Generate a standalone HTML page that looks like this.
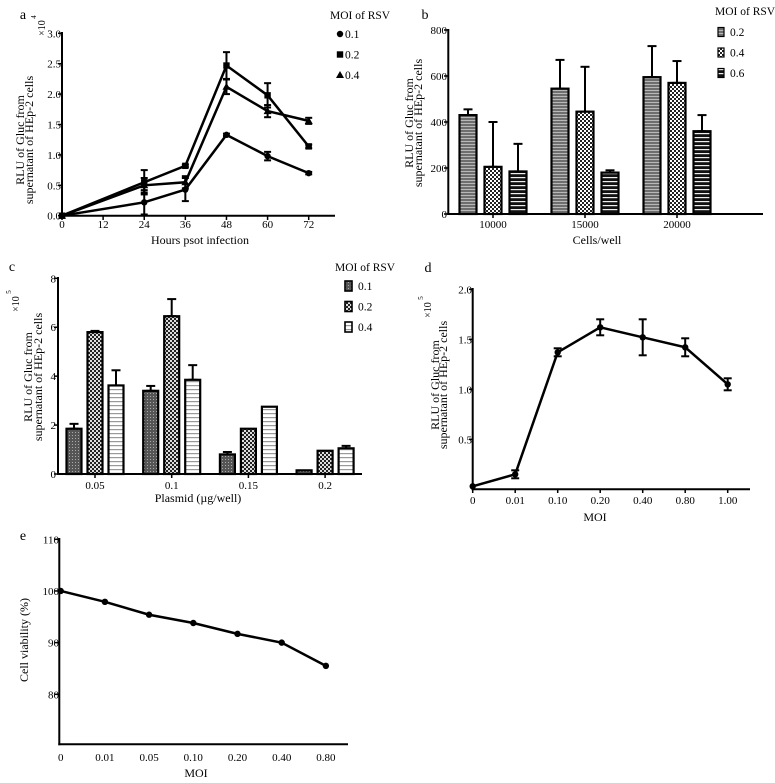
<!DOCTYPE html>
<html><head><meta charset="utf-8"><style>
html,body{margin:0;padding:0;background:#fff;}
svg{display:block;font-family:"Liberation Serif",serif;}
</style></head><body>
<svg id="fig" width="775" height="783" viewBox="0 0 775 783" xmlns="http://www.w3.org/2000/svg">
<defs>
<pattern id="pb1" width="4" height="3" patternUnits="userSpaceOnUse"><rect width="4" height="3" fill="#6e6e6e"/><rect width="4" height="1" fill="#b8b8b8"/></pattern>
<pattern id="pb2" width="4" height="4" patternUnits="userSpaceOnUse"><rect width="4" height="4" fill="#fff"/><rect width="2" height="2" fill="#222"/><rect x="2" y="2" width="2" height="2" fill="#222"/></pattern>
<pattern id="pb3" width="4" height="4" patternUnits="userSpaceOnUse"><rect width="4" height="4" fill="#111"/><rect y="1" width="4" height="1.2" fill="#eee"/></pattern>
<pattern id="pc1" width="3" height="3" patternUnits="userSpaceOnUse"><rect width="3" height="3" fill="#555"/><rect width="1" height="1" fill="#aaa"/></pattern>
<pattern id="pc2" width="4" height="4" patternUnits="userSpaceOnUse"><rect width="4" height="4" fill="#ddd"/><rect width="2" height="2" fill="#222"/><rect x="2" y="2" width="2" height="2" fill="#222"/></pattern>
<pattern id="pc3" width="4" height="4" patternUnits="userSpaceOnUse"><rect width="4" height="4" fill="#fff"/><rect y="1" width="4" height="1.2" fill="#999"/></pattern>
</defs>
</svg>
<script>
// Panel a data
const aHours = [0, 24, 36, 48, 60, 72];
const aXTicks = [0, 12, 24, 36, 48, 60, 72];
const aYTicks = ['0.0','0.5','1.0','1.5','2.0','2.5','3.0'];
const aSeriesNames = ['0.1', '0.2', '0.4'];
const aMoi01 = [0, 0.22, 0.43, 1.33, 0.98, 0.70];
const aErr01 = [0, 0.2, 0.19, 0.02, 0.07, 0.02];
const aMoi02 = [0, 0.55, 0.82, 2.47, 1.98, 1.14];
const aErr02 = [0, 0.2, 0.02, 0.22, 0.2, 0.03];
const aMoi04 = [0, 0.50, 0.55, 2.12, 1.72, 1.56];
const aErr04 = [0, 0.12, 0.1, 0.12, 0.1, 0.05];
// Panel b data
const bGroups = ['10000', '15000', '20000'];
const bYTicks = [0, 200, 400, 600, 800];
const bSeriesNames = ['0.2', '0.4', '0.6'];
const bMoi02 = [430, 545, 595];
const bErr02 = [25, 125, 135];
const bMoi04 = [205, 445, 570];
const bErr04 = [195, 195, 95];
const bMoi06 = [185, 180, 360];
const bErr06 = [120, 10, 70];
// Panel c data
const cGroups = ['0.05', '0.1', '0.15', '0.2'];
const cYTicks = [0, 2, 4, 6, 8];
const cSeriesNames = ['0.1', '0.2', '0.4'];
const cMoi01 = [1.85, 3.4, 0.8, 0.15];
const cErr01 = [0.2, 0.2, 0.1, 0];
const cMoi02 = [5.8, 6.45, 1.85, 0.95];
const cErr02 = [0.05, 0.7, 0, 0];
const cMoi04 = [3.62, 3.85, 2.75, 1.05];
const cErr04 = [0.62, 0.6, 0, 0.1];
// Panel d data
const dCats = ['0', '0.01', '0.10', '0.20', '0.40', '0.80', '1.00'];
const dYTicks = ['0.5', '1.0', '1.5', '2.0'];
const dVals = [0.03, 0.15, 1.37, 1.62, 1.52, 1.42, 1.05];
const dErr = [0.01, 0.04, 0.04, 0.08, 0.18, 0.09, 0.06];
// Panel e data
const eCats = ['0', '0.01', '0.05', '0.10', '0.20', '0.40', '0.80'];
const eYTicks = [80, 90, 100, 110];
const eVals = [100, 97.9, 95.4, 93.8, 91.7, 90.0, 85.5];

const svg = document.getElementById('fig');
const NS = 'http://www.w3.org/2000/svg';
const TICK = 11, TITLE = 12, LEG = 11.5;
function mk(tag, attrs, parent) {
  const e = document.createElementNS(NS, tag);
  for (const k in attrs) e.setAttribute(k, attrs[k]);
  (parent || svg).appendChild(e);
  return e;
}
function lin(d0, d1, r0, r1) { return v => r0 + (v - d0) * (r1 - r0) / (d1 - d0); }
function txt(x, y, s, size, anchor, rot) {
  const t = mk('text', {x: x, y: y, 'font-size': size, 'text-anchor': anchor || 'middle', fill: '#000'});
  if (rot) t.setAttribute('transform', 'rotate(-90 ' + x + ' ' + y + ')');
  t.textContent = s;
  return t;
}
function line(x1, y1, x2, y2, w) {
  return mk('line', {x1: x1, y1: y1, x2: x2, y2: y2, stroke: '#000', 'stroke-width': w || 2});
}
function errbar(x, yLo, yHi, cap) {
  const g = mk('g', {});
  
  
  mk('line', {x1: x, y1: yLo, x2: x, y2: yHi, stroke: '#000', 'stroke-width': 2}, g);
  mk('line', {x1: x - cap, y1: yHi, x2: x + cap, y2: yHi, stroke: '#000', 'stroke-width': 2}, g);
  mk('line', {x1: x - cap, y1: yLo, x2: x + cap, y2: yLo, stroke: '#000', 'stroke-width': 2}, g);
  return g;
}
function marker(kind, x, y, parent) {
  let m;
  if (kind === 0) m = mk('circle', {cx: x, cy: y, r: 3.2, fill: '#000'}, parent);
  else if (kind === 1) m = mk('rect', {x: x - 3.2, y: y - 3.2, width: 6.4, height: 6.4, fill: '#000'}, parent);
  else m = mk('polygon', {points: (x) + ',' + (y - 4) + ' ' + (x - 4) + ',' + (y + 3) + ' ' + (x + 4) + ',' + (y + 3), fill: '#000'}, parent);
  return m;
}

// ---------- Panel a ----------
(function () {
  const xa = lin(0, 72, 62, 308.7), ya = lin(0, 3, 215.7, 33.3);
  let t = txt(23, 19, 'a', 14);  
  line(62, 32, 62, 216.7); line(61, 215.7, 335, 215.7);
  aXTicks.forEach(v => {
    line(xa(v), 215.7, xa(v), 220, 1.5);
    const l = txt(xa(v), 228, String(v), TICK);  
  });
  aYTicks.forEach(s => {
    const v = parseFloat(s);
    line(58, ya(v), 62, ya(v), 1.5);
    const l = txt(61, ya(v) + 4, s, TICK, 'end');  
  });
  t = txt(200, 244, 'Hours psot infection', TITLE);  
  t = txt(24, 140, 'RLU of Gluc from', TITLE, 'middle', true);  
  t = txt(33, 140, 'supernatant of HEp-2 cells', TITLE, 'middle', true);  
  t = txt(45, 28, '×10', 10, 'middle', true);  
  t = txt(36, 17, '4', 7, 'middle', true);  
  const series = [[aMoi01, aErr01], [aMoi02, aErr02], [aMoi04, aErr04]];
  series.forEach((s, k) => {
    const g = mk('g', {});
    
    
    const pts = aHours.map((h, i) => xa(h) + ',' + ya(s[0][i])).join(' ');
    mk('polyline', {points: pts, fill: 'none', stroke: '#000', 'stroke-width': 2.5}, g);
    aHours.forEach((h, i) => {
      if (s[1][i] > 0) g.appendChild(errbar(xa(h), ya(s[0][i] - s[1][i]), ya(s[0][i] + s[1][i]), 3.5));
      marker(k, xa(h), ya(s[0][i]), g);
    });
  });
  t = txt(330, 19, 'MOI of RSV', LEG, 'start');  
  aSeriesNames.forEach((n, k) => {
    const y = 34 + k * 20.5;
    const g = mk('g', {});
    
    
    marker(k, 340, y, g);
    g.appendChild(txt(345, y + 4, n, LEG, 'start'));
  });
})();

function barPanel(pre, groups, series, errs, names, pats, y, cx0, dx, off, bw, base) {
  groups.forEach((gname, i) => {
    series.forEach((s, k) => {
      const cx = cx0 + i * dx + (k - 1) * off;
      if (errs[k][i] > 0) errbar(cx, y(s[i]), y(s[i] + errs[k][i]), 4.5);
      const r = mk('rect', {x: cx - bw / 2, y: y(s[i]), width: bw, height: base - y(s[i]), fill: 'url(#' + pats[k] + ')', stroke: '#000', 'stroke-width': 2.2});
      
      
    });
  });
}

// ---------- Panel b ----------
(function () {
  const yb = lin(0, 800, 214, 30);
  let t = txt(425, 19, 'b', 14);  
  barPanel('b', bGroups, [bMoi02, bMoi04, bMoi06], [bErr02, bErr04, bErr06], bSeriesNames, ['pb1', 'pb2', 'pb3'], yb, 493, 92, 25, 17, 214);
  line(448.3, 29, 448.3, 215); line(447.3, 214, 763, 214);
  bYTicks.forEach(v => {
    line(444, yb(v), 448.3, yb(v), 1.5);
    const l = txt(447, yb(v) + 4, String(v), TICK, 'end');  
  });
  bGroups.forEach((gname, i) => {
    const x = 493 + i * 92;
    line(x, 214, x, 218, 1.5);
    const l = txt(x, 228, gname, TICK);  
  });
  t = txt(597, 244, 'Cells/well', TITLE);  
  t = txt(413, 123, 'RLU of Gluc from', TITLE, 'middle', true);  
  t = txt(422, 123, 'supernatant of HEp-2 cells', TITLE, 'middle', true);  
  t = txt(715, 15, 'MOI of RSV', LEG, 'start');  
  const pats = ['pb1', 'pb2', 'pb3'];
  bSeriesNames.forEach((n, k) => {
    const y = 32 + k * 20.5;
    const g = mk('g', {});
    
    
    mk('rect', {x: 718, y: y - 4.5, width: 6, height: 9, fill: 'url(#' + pats[k] + ')', stroke: '#000', 'stroke-width': 1.2}, g);
    g.appendChild(txt(730, y + 4, n, LEG, 'start'));
  });
})();

// ---------- Panel c ----------
(function () {
  const yc = lin(0, 8, 474, 278.3);
  let t = txt(12, 271, 'c', 14);  
  barPanel('c', cGroups, [cMoi01, cMoi02, cMoi04], [cErr01, cErr02, cErr04], cSeriesNames, ['pc1', 'pc2', 'pc3'], yc, 95, 76.7, 21, 15, 474);
  line(58, 277, 58, 475); line(57, 474, 362, 474);
  cYTicks.forEach(v => {
    line(54, yc(v), 58, yc(v), 1.5);
    const l = txt(56, yc(v) + 4, String(v), TICK, 'end');  
  });
  cGroups.forEach((gname, i) => {
    const x = 95 + i * 76.7;
    line(x, 474, x, 478, 1.5);
    const l = txt(x, 489, gname, TICK);  
  });
  t = txt(198, 502, 'Plasmid (µg/well)', TITLE);  
  t = txt(32, 377, 'RLU of Gluc from', TITLE, 'middle', true);  
  t = txt(42, 377, 'supernatant of HEp-2 cells', TITLE, 'middle', true);  
  t = txt(19, 304, '×10', 10, 'middle', true);  
  t = txt(11, 292, '5', 7, 'middle', true);  
  t = txt(335, 271, 'MOI of RSV', LEG, 'start');  
  const pats = ['pc1', 'pc2', 'pc3'];
  cSeriesNames.forEach((n, k) => {
    const y = 286 + k * 20.5;
    const g = mk('g', {});
    
    
    mk('rect', {x: 345, y: y - 5, width: 7, height: 10, fill: 'url(#' + pats[k] + ')', stroke: '#000', 'stroke-width': 1.6}, g);
    g.appendChild(txt(358, y + 4, n, LEG, 'start'));
  });
})();

// ---------- Panel d ----------
(function () {
  const xd = i => 472.7 + i * 42.5, yd = lin(0, 2, 489.3, 289.3);
  let t = txt(428, 272, 'd', 14);  
  line(472.7, 288, 472.7, 490.3); line(471.7, 489.3, 750, 489.3);
  dYTicks.forEach(s => {
    const v = parseFloat(s);
    line(469, yd(v), 472.7, yd(v), 1.5);
    const l = txt(472, yd(v) + 4, s, TICK, 'end');  
  });
  dCats.forEach((c, i) => {
    line(xd(i), 489.3, xd(i), 493, 1.5);
    const l = txt(xd(i), 504, c, TICK);  
  });
  const g = mk('g', {});
  
  
  mk('polyline', {points: dVals.map((v, i) => xd(i) + ',' + yd(v)).join(' '), fill: 'none', stroke: '#000', 'stroke-width': 2.5}, g);
  dVals.forEach((v, i) => {
    if (dErr[i] > 0.015) g.appendChild(errbar(xd(i), yd(v - dErr[i]), yd(v + dErr[i]), 4));
    marker(0, xd(i), yd(v), g);
  });
  t = txt(595, 521, 'MOI', TITLE);  
  t = txt(439, 385, 'RLU of Gluc from', TITLE, 'middle', true);  
  t = txt(447, 385, 'supernatant of HEp-2 cells', TITLE, 'middle', true);  
  t = txt(431, 310, '×10', 10, 'middle', true);  
  t = txt(423, 298, '5', 7, 'middle', true);  
})();

// ---------- Panel e ----------
(function () {
  const xe = i => 60.7 + i * 44.2, ye = lin(80, 110, 694.3, 539.3);
  let t = txt(23, 540, 'e', 14);  
  line(59.3, 538, 59.3, 745.3); line(58.3, 744.3, 348, 744.3);
  eYTicks.forEach(v => {
    line(55, ye(v), 59.3, ye(v), 1.5);
    const l = txt(59, ye(v) + 4, String(v), TICK, 'end');  
  });
  eCats.forEach((c, i) => {
    const l = txt(xe(i), 761, c, TICK);  
  });
  const g = mk('g', {});
  
  
  mk('polyline', {points: eVals.map((v, i) => xe(i) + ',' + ye(v)).join(' '), fill: 'none', stroke: '#000', 'stroke-width': 2.5}, g);
  eVals.forEach((v, i) => marker(0, xe(i), ye(v), g));
  t = txt(196, 777, 'MOI', TITLE);  
  t = txt(28, 640, 'Cell viability (%)', TITLE, 'middle', true);  
})();
</script>
</body></html>
